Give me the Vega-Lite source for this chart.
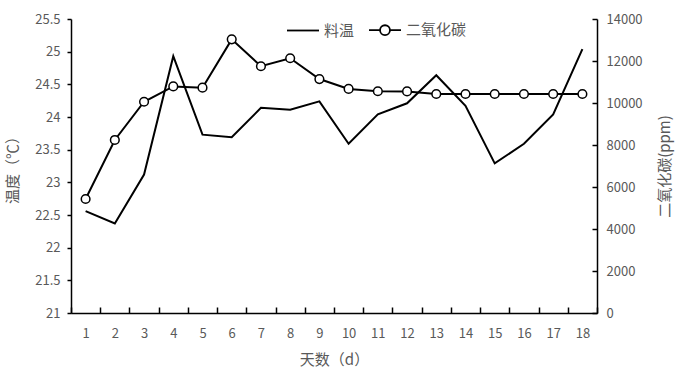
{
  "$schema": "https://vega.github.io/schema/vega-lite/v6.json",
  "width": 526,
  "height": 294,
  "autosize": {"type": "none"},
  "padding": {"left": 71, "top": 19, "right": 81, "bottom": 61},
  "background": "white",
  "config": {
    "view": {"stroke": null},
    "font": "Noto Sans CJK SC",
    "axis": {"grid": false, "domainColor": "black", "tickColor": "black", "labelColor": "#595959", "titleColor": "#595959", "labelFont": "Noto Sans CJK SC", "titleFont": "Noto Sans CJK SC", "titleFontWeight": "normal", "labelFontSize": 13, "titleFontSize": 15, "domainWidth": 1.5, "tickWidth": 1.5}
  },
  "data": {
    "values": [
      {"day": 1, "temp": 22.56, "co2": 5430},
      {"day": 2, "temp": 22.37, "co2": 8240},
      {"day": 3, "temp": 23.12, "co2": 10060},
      {"day": 4, "temp": 24.93, "co2": 10790},
      {"day": 5, "temp": 23.73, "co2": 10730},
      {"day": 6, "temp": 23.69, "co2": 13030},
      {"day": 7, "temp": 24.14, "co2": 11750},
      {"day": 8, "temp": 24.11, "co2": 12130},
      {"day": 9, "temp": 24.24, "co2": 11140},
      {"day": 10, "temp": 23.59, "co2": 10670},
      {"day": 11, "temp": 24.04, "co2": 10560},
      {"day": 12, "temp": 24.21, "co2": 10550},
      {"day": 13, "temp": 24.64, "co2": 10430},
      {"day": 14, "temp": 24.17, "co2": 10430},
      {"day": 15, "temp": 23.29, "co2": 10430},
      {"day": 16, "temp": 23.59, "co2": 10430},
      {"day": 17, "temp": 24.04, "co2": 10430},
      {"day": 18, "temp": 25.04, "co2": 10430}
    ]
  },
  "encoding": {
    "x": {
      "field": "day", "type": "ordinal",
      "scale": {"type": "band", "paddingInner": 0, "paddingOuter": 0},
      "axis": {"title": "天数（d）", "labelAngle": 0, "tickBand": "extent", "tickSize": -6, "labelPadding": 20, "titlePadding": 12}
    }
  },
  "layer": [
    {
      "mark": {"type": "line", "color": "black", "strokeWidth": 2},
      "encoding": {
        "y": {
          "field": "temp", "type": "quantitative",
          "scale": {"domain": [21, 25.5], "nice": false, "zero": false},
          "axis": {"orient": "left", "title": "温度（℃）", "values": [21, 21.5, 22, 22.5, 23, 23.5, 24, 24.5, 25, 25.5], "format": "~g", "tickSize": 4, "labelPadding": 7, "titlePadding": 14}
        },
        "color": {
          "datum": "料温", "type": "nominal",
          "scale": {"domain": ["料温", "二氧化碳"], "range": ["black", "black"]},
          "legend": {
            "title": null, "orient": "none", "legendX": 223, "legendY": 2, "direction": "horizontal",
            "padding": 0, "symbolSize": 256, "labelFontSize": 15, "labelColor": "#595959", "labelFont": "Noto Sans CJK SC",
            "labelOffset": 12, "columnPadding": 10,
            "encode": {"symbols": {"update": {
              "shape": {"signal": "datum.value === '料温' ? 'M-2,0L2,0' : 'M-2,0L-0.62,0M0.62,0L2,0M0.62,0A0.62,0.62 0 1,1 -0.62,0A0.62,0.62 0 1,1 0.62,0'"},
              "fill": {"value": "white"}, "stroke": {"value": "black"}, "strokeWidth": {"value": 1.8}, "opacity": {"value": 1}
            }}}
          }
        }
      }
    },
    {
      "encoding": {
        "y": {
          "field": "co2", "type": "quantitative",
          "scale": {"domain": [0, 14000], "nice": false},
          "axis": {"orient": "right", "title": "二氧化碳(ppm)", "titleAngle": 270, "values": [0, 2000, 4000, 6000, 8000, 10000, 12000, 14000], "format": "d", "tickSize": -5, "labelPadding": 14, "titlePadding": 30}
        }
      },
      "layer": [
        {
          "mark": {"type": "line", "color": "black", "strokeWidth": 2},
          "encoding": {"color": {"datum": "二氧化碳", "type": "nominal"}}
        },
        {
          "mark": {"type": "point", "filled": true, "fill": "white", "stroke": "black", "strokeWidth": 1.5, "size": 75, "opacity": 1}
        }
      ]
    }
  ],
  "resolve": {"scale": {"y": "independent"}, "axis": {"y": "independent"}}
}
